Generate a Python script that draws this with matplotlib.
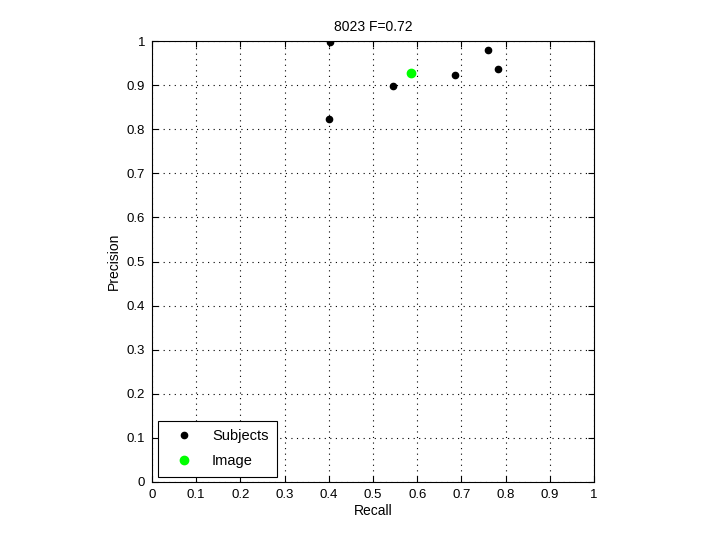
import matplotlib
matplotlib.use("Agg")
import matplotlib.pyplot as plt

subj_recall = [0.403, 0.400, 0.545, 0.686, 0.760, 0.783]
subj_precision = [0.997, 0.823, 0.898, 0.922, 0.980, 0.936]
img_recall = [0.586]
img_precision = [0.928]
ticks = [0, 0.1, 0.2, 0.3, 0.4, 0.5, 0.6, 0.7, 0.8, 0.9, 1]
tick_labels = ["0", "0.1", "0.2", "0.3", "0.4", "0.5", "0.6", "0.7", "0.8", "0.9", "1"]

plt.rcParams['font.family'] = ['Liberation Sans', 'DejaVu Sans']
fig = plt.figure(figsize=(7.2, 5.4), dpi=100)
ax = fig.add_axes([152/720, 58/540, 442/720, 441/540])
ax.plot(subj_recall, subj_precision, 'o', color='black', markersize=4.5, label='Subjects', linestyle='none')
ax.plot(img_recall, img_precision, 'o', color='#00ff00', markersize=6, label='Image', linestyle='none')
ax.set_xlim(0, 1)
ax.set_ylim(0, 1)
ax.set_xticks(ticks)
ax.set_xticklabels(tick_labels)
ax.set_yticks(ticks)
ax.set_yticklabels(tick_labels)
ax.tick_params(direction='in', top=True, right=True, labelsize=9.5, length=4, pad=5)
ax.grid(True, linestyle=(0, (1, 4)), color='black', linewidth=0.8)
ax.set_xlabel('Recall', fontsize=10, labelpad=2)
ax.set_ylabel('Precision', fontsize=10, labelpad=4)
ax.set_title('8023 F=0.72', fontsize=10, pad=7)
for s in ax.spines.values():
    s.set_linewidth(0.8)
leg = ax.legend(loc='lower left', fontsize=10.5, frameon=True, fancybox=False,
                edgecolor='black', framealpha=1, borderpad=0.6, handletextpad=0.8,
                labelspacing=0.75, handlelength=2.3, borderaxespad=0,
                bbox_to_anchor=(6/442, 5/441))
leg.get_frame().set_linewidth(0.8)
fig.savefig('out.png', dpi=100)
